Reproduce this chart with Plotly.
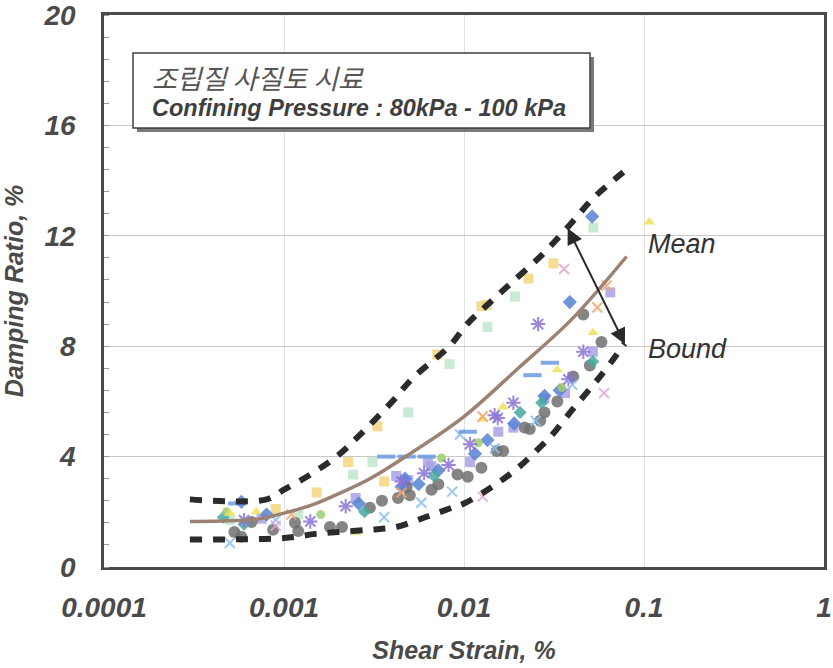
import plotly.graph_objects as go

# ---- strain axis labels ----
x_tick_vals = [0.0001, 0.001, 0.01, 0.1, 1]
x_tick_text = ["0.0001", "0.001", "0.01", "0.1", "1"]
y_tick_vals = [0, 4, 8, 12, 16, 20]

# ---- fitted curves (shear strain %, damping ratio %) ----
mean_strain = [0.0003, 0.0005, 0.0007, 0.001, 0.0015, 0.002, 0.003, 0.005, 0.01, 0.02, 0.04, 0.08]
mean_damping = [1.65, 1.68, 1.72, 1.95, 2.3, 2.65, 3.2, 4.1, 5.45, 7.2, 9.0, 11.25]

upper_strain = [0.0003, 0.0008, 0.001, 0.0014, 0.002, 0.0027, 0.004, 0.0052, 0.0083, 0.0104,
                0.0135, 0.018, 0.0275, 0.04, 0.052, 0.08]
upper_damping = [2.45, 2.45, 2.8, 3.35, 4.05, 4.85, 6.0, 6.85, 8.0, 8.8,
                 9.5, 10.25, 11.35, 12.5, 13.35, 14.4]

lower_strain = [0.0003, 0.001, 0.0015, 0.002, 0.003, 0.0042, 0.0062, 0.0086, 0.01, 0.0143,
                0.02, 0.027, 0.031, 0.04, 0.0515, 0.062, 0.078]
lower_damping = [1.0, 1.05, 1.2, 1.27, 1.35, 1.45, 1.82, 2.15, 2.3, 2.9,
                 3.6, 4.4, 4.8, 5.7, 6.55, 7.2, 8.1]

# ---- test results, one list pair per specimen ----
yellow_sq_x = [0.0009, 0.00152, 0.00227, 0.0033, 0.0071, 0.0125, 0.0134, 0.0228, 0.0314, 0.0036]
yellow_sq_y = [2.1, 2.7, 3.8, 5.1, 7.7, 9.45, 9.5, 10.45, 11.0, 3.1]

mint_sq_x = [0.0005, 0.00242, 0.0031, 0.0049, 0.0083, 0.0135, 0.0192, 0.0523, 0.0012, 0.0065]
mint_sq_y = [1.7, 3.35, 3.8, 5.6, 7.35, 8.7, 9.8, 12.3, 1.9, 3.6]

blue_dia_x = [0.00058, 0.0008, 0.0026, 0.0047, 0.0072, 0.0115, 0.019, 0.0387, 0.0515,
              0.0045, 0.028, 0.0056, 0.0135, 0.034]
blue_dia_y = [2.36, 1.9, 2.3, 3.2, 3.5, 4.1, 5.2, 9.6, 12.7,
              2.9, 6.2, 3.0, 4.6, 6.4]

purple_ast_x = [0.0006, 0.0014, 0.0022, 0.0045, 0.0108, 0.0148, 0.0154, 0.0188, 0.0258, 0.046,
                0.006, 0.0082, 0.038]
purple_ast_y = [1.7, 1.65, 2.2, 3.1, 4.45, 5.5, 5.4, 5.95, 8.8, 7.8,
                3.4, 3.7, 6.8]

gray_circ_x = [0.00053, 0.00058, 0.00066, 0.00087, 0.00115, 0.0012, 0.0018, 0.0021, 0.003, 0.0035,
               0.0043, 0.005, 0.0066, 0.0092, 0.0105, 0.0152, 0.0165, 0.0217, 0.0232, 0.028,
               0.033, 0.0404, 0.046, 0.05, 0.058, 0.0048, 0.0072, 0.0125, 0.0265]
gray_circ_y = [1.27, 1.1, 1.63, 1.35, 1.6, 1.3, 1.45, 1.45, 2.15, 2.4,
               2.5, 2.6, 2.8, 3.35, 3.27, 4.2, 4.2, 5.05, 5.0, 5.6,
               6.0, 6.9, 9.15, 7.3, 8.15, 2.9, 3.0, 3.6, 5.3]

lavender_sq_x = [0.00075, 0.0049, 0.0063, 0.0066, 0.0108, 0.0188, 0.0364, 0.052, 0.065, 0.0025,
                 0.0042, 0.0155, 0.028]
lavender_sq_y = [1.75, 3.15, 3.8, 3.65, 3.8, 5.05, 6.3, 7.8, 9.95, 2.5,
                 3.3, 4.9, 6.1]

lightblue_x_x = [0.0005, 0.0009, 0.0036, 0.0058, 0.0086, 0.0095, 0.0148, 0.025, 0.04]
lightblue_x_y = [0.87, 1.7, 1.8, 2.33, 2.73, 4.8, 4.3, 5.3, 6.6]

orange_x_x = [0.0011, 0.0045, 0.0127, 0.055, 0.062]
orange_x_y = [1.9, 2.7, 5.45, 9.4, 10.2]

yellow_tri_x = [0.0005, 0.0007, 0.0025, 0.0127, 0.0165, 0.033, 0.052, 0.107]
yellow_tri_y = [1.95, 2.0, 1.25, 5.35, 5.8, 7.15, 8.5, 12.5]

blue_dash_x = [0.00055, 0.0037, 0.0048, 0.0062, 0.024, 0.03, 0.0105]
blue_dash_y = [2.3, 4.0, 4.0, 4.0, 6.95, 7.4, 4.9]

teal_dia_x = [0.00046, 0.0006, 0.0028, 0.0205, 0.027, 0.052, 0.0068]
teal_dia_y = [1.8, 1.55, 2.0, 5.6, 5.95, 7.45, 3.3]

olive_circ_x = [0.00048, 0.0016, 0.0075, 0.012, 0.035]
olive_circ_y = [2.0, 1.9, 3.95, 4.5, 6.5]

pink_x_x = [0.0009, 0.0127, 0.036, 0.06]
pink_x_y = [1.5, 2.55, 10.8, 6.3]

specimens = [
    (yellow_sq_x, yellow_sq_y, "square", "#f3d67c", 10, None),
    (mint_sq_x, mint_sq_y, "square", "#bfe7cf", 10, None),
    (lavender_sq_x, lavender_sq_y, "square", "#aaa1e6", 10, None),
    (gray_circ_x, gray_circ_y, "circle", "#707070", 12, None),
    (blue_dia_x, blue_dia_y, "diamond", "#5583d4", 11, None),
    (teal_dia_x, teal_dia_y, "diamond", "#45a9a0", 10, None),
    (olive_circ_x, olive_circ_y, "circle", "#9fcf6e", 9, None),
    (yellow_tri_x, yellow_tri_y, "triangle-up", "#eee25c", 10, None),
    (purple_ast_x, purple_ast_y, "asterisk-open", "#8c72d8", 12, 2),
    (lightblue_x_x, lightblue_x_y, "x-thin-open", "#8cc0ee", 10, 2),
    (orange_x_x, orange_x_y, "x-thin-open", "#f2a66a", 10, 2),
    (pink_x_x, pink_x_y, "x-thin-open", "#e6a6d8", 10, 2),
    (blue_dash_x, blue_dash_y, "line-ew-open", "#6a9ae0", 13, 4),
]

fig = go.Figure()

for sx, sy, sym, col, size, lw in specimens:
    marker = dict(symbol=sym, color=col, size=size, opacity=0.85)
    if lw is not None:
        marker["line"] = dict(color=col, width=lw)
    else:
        marker["line"] = dict(width=0)
    fig.add_trace(go.Scatter(x=sx, y=sy, mode="markers", marker=marker,
                             showlegend=False, hoverinfo="skip"))

# bounds (thick dashed) and mean curve
for bx, by in [(upper_strain, upper_damping), (lower_strain, lower_damping)]:
    fig.add_trace(go.Scatter(x=bx, y=by, mode="lines", line_shape="spline",
                             line=dict(color="#2b2b2b", width=6, dash="12px,11px"),
                             showlegend=False, hoverinfo="skip"))
fig.add_trace(go.Scatter(x=mean_strain, y=mean_damping, mode="lines", line_shape="spline",
                         line=dict(color="#9c8272", width=3.5),
                         showlegend=False, hoverinfo="skip"))

tick_font = dict(family="Liberation Sans, Arial", size=28,
                 color="#4a4a4a", weight="bold", style="italic")
title_font = dict(family="Liberation Sans, Arial", size=25,
                  color="#4a4a4a", weight="bold", style="italic")

fig.update_layout(
    width=833, height=668,
    margin=dict(l=104, r=9, t=15, b=101, autoexpand=False),
    paper_bgcolor="white", plot_bgcolor="white",
    xaxis=dict(
        type="log", range=[-4, 0], automargin=False,
        tickvals=x_tick_vals, ticktext=x_tick_text,
        tickfont=tick_font, ticks="", ticklabelstandoff=14,
        ticklabeloverflow="allow",
        showgrid=True, gridcolor="#e2e2e2", gridwidth=1,
        showline=True, linecolor="#4a4a4a", linewidth=2.5, mirror=True,
        zeroline=False,
        title=dict(text="Shear Strain, %", font=title_font, standoff=20),
    ),
    yaxis=dict(
        range=[0, 20], tickvals=y_tick_vals, automargin=False,
        tickfont=tick_font, ticks="", ticklabelstandoff=20,
        ticklabeloverflow="allow",
        showgrid=True, gridcolor="#c9c9c9", gridwidth=1,
        minor=dict(dtick=0.8, ticks="inside", ticklen=5, tickcolor="#9a9a9a", showgrid=False),
        showline=True, linecolor="#4a4a4a", linewidth=2.5, mirror=True,
        zeroline=False,
        title=dict(text="Damping Ratio, %", font=title_font, standoff=14),
    ),
)

# caption box with drop shadow
fig.add_shape(type="rect", xref="paper", yref="paper",
              x0=0.0458, x1=0.6806, y0=0.7880, y1=0.9239,
              fillcolor="#7a7a7a", line=dict(width=0), layer="above")
fig.add_shape(type="rect", xref="paper", yref="paper",
              x0=0.0403, x1=0.6750, y0=0.7953, y1=0.9312,
              fillcolor="white", line=dict(color="#3f3f3f", width=1.5), layer="above")
fig.add_annotation(xref="paper", yref="paper", x=0.064, y=0.886,
                   xanchor="left", yanchor="middle", showarrow=False,
                   text="조립질 사질토 시료",
                   font=dict(family="Noto Sans CJK KR", size=27, color="#555555", style="italic"))
fig.add_annotation(xref="paper", yref="paper", x=0.064, y=0.8315,
                   xanchor="left", yanchor="middle", showarrow=False,
                   text="Confining Pressure : 80kPa - 100 kPa",
                   font=dict(family="Liberation Sans, Arial", size=23.5,
                             color="#3f3f3f", weight="bold", style="italic"))

# curve labels and double-headed arrow
curve_font = dict(family="Liberation Sans, Arial", size=27, color="#333333", style="italic")
fig.add_annotation(x=-0.99, y=11.7, xref="x", yref="y", text="Mean", showarrow=False,
                   xanchor="left", yanchor="middle", font=curve_font)
fig.add_annotation(x=-0.99, y=7.9, xref="x", yref="y", text="Bound", showarrow=False,
                   xanchor="left", yanchor="middle", font=curve_font)
fig.add_annotation(x=-1.106, y=8.07, ax=-1.428, ay=12.33,
                   xref="x", yref="y", axref="x", ayref="y", text="",
                   showarrow=True, arrowhead=2, startarrowhead=2, arrowside="end+start",
                   arrowsize=1.6, startarrowsize=1.6, arrowwidth=2, arrowcolor="#2a2a2a")

fig.write_html("out.html")
